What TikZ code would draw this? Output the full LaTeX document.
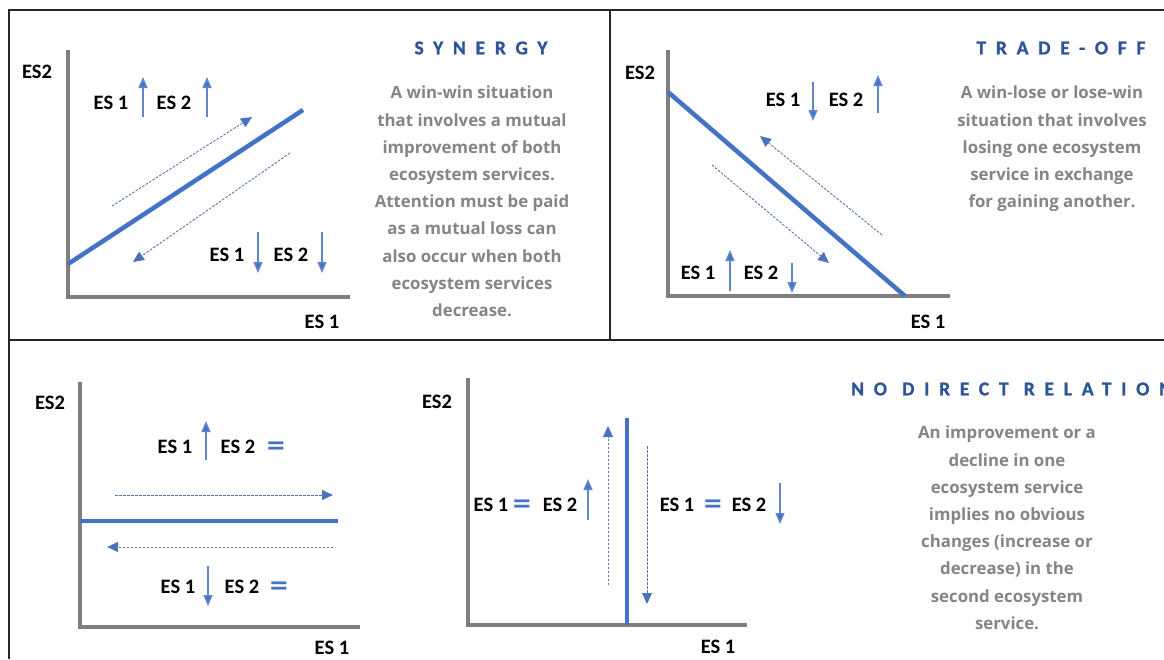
\documentclass[tikz,border=0pt]{standalone}
\usepackage{fontspec}
\setmainfont{Carlito}
\newfontfamily\descfont{Open Sans}
\newfontfamily\titlefont[LetterSpace=50,FakeBold=1.2]{Carlito}
\newfontfamily\eqfont{DejaVu Sans}
\usetikzlibrary{arrows.meta,positioning}
\definecolor{esblue}{HTML}{4472C4}
\definecolor{titleblue}{HTML}{2F5597}
\definecolor{axisgray}{HTML}{7F7F7F}
\definecolor{descgray}{HTML}{858585}
\definecolor{framegray}{HTML}{262626}
\tikzset{
  frame/.style={draw=framegray, line width=2.5pt},
  axis/.style={draw=axisgray, line width=4pt},
  relline/.style={draw=esblue, line width=4.5pt},
  trend/.style={draw=esblue!75!gray, line width=0.9pt, dash pattern=on 2.5pt off 1.5pt,
                -{Triangle[length=11pt,width=10pt,fill=esblue]}},
  updown/.style={draw=esblue!85!white, line width=1.4pt, -{Triangle[length=11pt,width=9pt,fill=esblue]}},
  eslbl/.style={font=\bfseries\fontsize{20.5}{22}\selectfont, inner sep=0pt},
  eqsign/.style={font=\eqfont\bfseries\fontsize{24}{24}\selectfont, text=esblue, inner sep=0pt},
  ttl/.style={font=\titlefont\bfseries\fontsize{19.5}{22}\selectfont, text=titleblue, inner sep=0pt},
  desc/.style={font=\descfont\bfseries\fontsize{16.8}{27.2}\selectfont, text=descgray,
               align=center, inner sep=0pt},
}

\begin{document}
\begin{tikzpicture}[x=1pt,y=-1pt]
  \useasboundingbox (0,0) rectangle (1164,659);
  \fill[white] (0,0) rectangle (1164,659);
  \clip (0,0) rectangle (1164,659);
  % panel frame
  \draw[frame] (9,659) -- (9,10) -- (1164,10);
  \draw[frame] (610,10) -- (610,340);
  \draw[frame] (9,340) -- (1164,340);

  % synergy
  \node[eslbl] (synY) at (37,72) {ES2};
  \node[eslbl] (synX) at (322,322) {ES 1};
  \draw[axis] (68,50) -- (68,297) -- (350,297);
  \draw[relline] (68,264) -- (303,110);
  \draw[trend] (112,206) -- (252,117);
  \draw[trend] (290,153) -- (133,262);
  \node[eslbl] (synA1) at (111,103) {ES 1};
  \draw[updown] (143,117) -- (143,77);
  \node[eslbl] (synA2) at (174,103) {ES 2};
  \draw[updown] (207,117) -- (207,77);
  \node[eslbl] (synB1) at (227,255) {ES 1};
  \draw[updown] (258,232) -- (258,273);
  \node[eslbl] (synB2) at (291,255) {ES 2};
  \draw[updown] (322,232) -- (322,273);
  \node[ttl] (synT) at (481,48) {SYNERGY};
  \node[desc, anchor=north] (synD) at (472,86)
    {A win-win situation\\that involves a mutual\\improvement of both\\ecosystem services.\\
     Attention must be paid\\as a mutual loss can\\also occur when both\\ecosystem services\\decrease.};

  % trade-off
  \node[eslbl] (trdY) at (640,73) {ES2};
  \node[eslbl] (trdX) at (928,322) {ES 1};
  \draw[axis] (668,50) -- (668,296) -- (950,296);
  \draw[relline] (668,92) -- (905,296);
  \draw[trend] (882,235) -- (760,136);
  \draw[trend] (712,165) -- (829,263);
  \node[eslbl] (trdA1) at (783,100) {ES 1};
  \draw[updown] (813,82) -- (813,121);
  \node[eslbl] (trdA2) at (846,100) {ES 2};
  \draw[updown] (878,113) -- (878,75);
  \node[eslbl] (trdB1) at (698,273) {ES 1};
  \draw[updown] (730,291) -- (730,250);
  \node[eslbl] (trdB2) at (761,273) {ES 2};
  \draw[updown] (792,263) -- (792,293);
  \node[ttl] (trdT) at (1061,48) {TRADE-OFF};
  \node[desc, anchor=north] (trdD) at (1052,86)
    {A win-lose or lose-win\\situation that involves\\losing one ecosystem\\service in exchange\\for gaining another.};

  % no direct relation, horizontal
  \node[eslbl] (ndhY) at (50,403) {ES2};
  \node[eslbl] (ndhX) at (332,648) {ES 1};
  \draw[axis] (80,382) -- (80,627) -- (360,627);
  \draw[relline] (80,521) -- (338,521);
  \draw[trend] (115,495) -- (333,495);
  \draw[trend] (333,547) -- (107,547);
  \node[eslbl] (ndhA1) at (175,447) {ES 1};
  \draw[updown] (206,460) -- (206,421);
  \node[eslbl] (ndhA2) at (238,447) {ES 2};
  \node[eqsign] (ndhA3) at (276,448) {=};
  \node[eslbl] (ndhB1) at (178,587) {ES 1};
  \draw[updown] (208,566) -- (208,606);
  \node[eslbl] (ndhB2) at (242,587) {ES 2};
  \node[eqsign] (ndhB3) at (279,588) {=};

  % no direct relation, vertical
  \node[eslbl] (ndvY) at (437,402) {ES2};
  \node[eslbl] (ndvX) at (718,647) {ES 1};
  \draw[axis] (468,378) -- (468,625) -- (747,625);
  \draw[relline] (627,418) -- (627,625);
  \draw[trend] (608,585) -- (608,426);
  \draw[trend] (647,446) -- (647,604);
  \node[eslbl] (ndvA1) at (491,505) {ES 1};
  \node[eqsign] (ndvA2) at (522,506) {=};
  \node[eslbl] (ndvA3) at (560,505) {ES 2};
  \draw[updown] (588,520) -- (588,479);
  \node[eslbl] (ndvB1) at (677,505) {ES 1};
  \node[eqsign] (ndvB2) at (713,506) {=};
  \node[eslbl] (ndvB3) at (749,505) {ES 2};
  \draw[updown] (780,483) -- (780,524);
  \node[ttl, anchor=west] (ndrT) at (851,389) {NO\hspace{1pt} DIRECT\hspace{1pt} RELATION};
  \node[desc, anchor=north] (ndrD) at (1007,426)
    {An improvement or a\\decline in one\\ecosystem service\\implies no obvious\\changes (increase or\\
     decrease) in the\\second ecosystem\\service.};
\end{tikzpicture}
\end{document}
